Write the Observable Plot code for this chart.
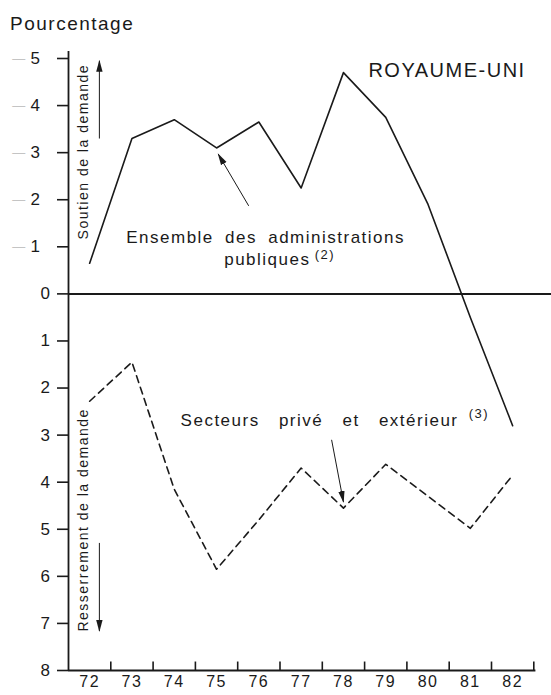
<!DOCTYPE html>
<html><head><meta charset="utf-8">
<script src="https://cdn.jsdelivr.net/npm/d3@7"></script>
<script src="https://cdn.jsdelivr.net/npm/@observablehq/plot@0.6"></script>
<style>
html,body{margin:0;padding:0;background:#fff;overflow:hidden;}
#wrap{position:relative;width:551px;height:695px;}
#ytitle{position:absolute;left:10px;top:14px;font-family:"Liberation Sans",Arial,sans-serif;font-size:19px;line-height:19px;letter-spacing:1.5px;color:#1a1a1a;}
svg text{letter-spacing:1.5px;}
</style></head><body>
<div id="wrap"><div id="ytitle">Pourcentage</div></div>
<script>
// ---- data ----
const years = [72, 73, 74, 75, 76, 77, 78, 79, 80, 81, 82];
const adminBalance = [0.65, 3.3, 3.7, 3.1, 3.65, 2.25, 4.7, 3.75, 1.9, -0.5, -2.8];     // Ensemble des administrations publiques
const privateBalance = [-2.28, -1.45, -4.15, -5.85, -4.8, -3.7, -4.55, -3.62, -4.3, -4.98, -3.85]; // Secteurs privé et extérieur
const yTicks = [-8, -7, -6, -5, -4, -3, -2, -1, 0, 1, 2, 3, 4, 5];
const halfYears = [72.5, 73.5, 74.5, 75.5, 76.5, 77.5, 78.5, 79.5, 80.5, 81.5, 82.5];
const countryTitle = "ROYAUME-UNI";
const adminLabel1 = "Ensemble des administrations";
const adminLabel2 = "publiques";
const adminNote = "(2)";
const privLabel = "Secteurs privé et extérieur";
const privNote = "(3)";
const upLabel = "Soutien de la demande";
const downLabel = "Resserrement de la demande";
// annotation arrows (data units): x1,y1 -> x2,y2
const arrowX1 = [72.23, 72.23, 75.76, 77.72];
const arrowY1 = [3.3, -5.29, 1.87, -3.10];
const arrowX2 = [72.23, 72.23, 75.04, 78.0];
const arrowY2 = [4.95, -7.16, 2.97, -4.42];

const table = years.map((yr, i) => ({year: yr, admin: adminBalance[i], priv: privateBalance[i]}));
const arrows = arrowX1.map((x, i) => ({x1: x, y1: arrowY1[i], x2: arrowX2[i], y2: arrowY2[i]}));
const ink = "#1a1a1a";

const chart = Plot.plot({
  width: 551, height: 695,
  marginTop: 58, marginBottom: 25, marginLeft: 68, marginRight: 17.7,
  x: {domain: [71.5, 82.5]},
  y: {domain: [-8, 5]},
  style: {fontFamily: "'Liberation Sans', Arial, sans-serif", fontSize: "17px", color: ink, background: "white", overflow: "hidden"},
  marks: [
    Plot.ruleY([0], {x1: 71.5, x2: 83.3, stroke: ink, strokeWidth: 2}),
    Plot.ruleY([-8], {x1: 71.5, x2: 82.55, stroke: ink, strokeWidth: 1.8}),
    Plot.ruleX([71.5], {y1: -8, y2: 5.15, stroke: ink, strokeWidth: 1.8}),
    Plot.ruleX(halfYears, {y1: -8, y2: -7.82, stroke: ink, strokeWidth: 1.6}),
    Plot.axisY(yTicks, {tickSize: 11, tickPadding: 6, strokeWidth: 1.6, fontSize: 17, label: null,
      tickFormat: d => d > 0 ? d + "\u2002" : String(Math.abs(d))}),
    Plot.text(yTicks.filter(d => d > 0), {x: 71.5, y: d => d, text: () => "\u2014", dx: -49, fill: "#c4c4c4", fontSize: 13}),
    Plot.axisX(years, {tickSize: 0, tickPadding: 5, fontSize: 16, label: null, tickFormat: d => String(d)}),
    Plot.line(table, {x: "year", y: "admin", stroke: ink, strokeWidth: 1.6}),
    Plot.line(table, {x: "year", y: "priv", stroke: ink, strokeWidth: 1.6, strokeDasharray: "7,5"}),
    Plot.link(arrows, {x1: "x1", y1: "y1", x2: "x2", y2: "y2", stroke: ink, strokeWidth: 1, markerEnd: "arrow"}),
    Plot.text([countryTitle], {x: 78.59, y: 4.74, text: d => d, textAnchor: "start", fontSize: 20}),
    Plot.text([adminLabel1], {x: 76.16, y: 1.19, text: d => d, fontSize: 17, ariaDescription: "ws5"}),
    Plot.text([adminLabel2], {x: 77.22, y: 0.72, text: d => d, textAnchor: "end", fontSize: 17}),
    Plot.text([adminNote], {x: 77.32, y: 0.83, text: d => d, textAnchor: "start", fontSize: 13}),
    Plot.text([privLabel], {x: 74.15, y: -2.68, text: d => d, textAnchor: "start", fontSize: 17, ariaDescription: "ws13"}),
    Plot.text([privNote], {x: 80.96, y: -2.55, text: d => d, textAnchor: "start", fontSize: 13}),
    Plot.text([upLabel], {x: 71.855, y: 3.02, text: d => d, rotate: -90, fontSize: 14}),
    Plot.text([downLabel], {x: 71.855, y: -4.80, text: d => d, rotate: -90, fontSize: 14})
  ]
});

// filled arrowheads
chart.querySelectorAll("marker").forEach(m => {
  m.setAttribute("viewBox", "-11 -4 12 8");
  m.setAttribute("markerWidth", "12");
  m.setAttribute("markerHeight", "8");
  m.setAttribute("markerUnits", "userSpaceOnUse");
  m.setAttribute("fill", ink);
  m.setAttribute("stroke", "none");
  m.querySelectorAll("path").forEach(p => {
    p.setAttribute("d", "M-11,-3.2L1,0L-11,3.2Z");
    p.setAttribute("fill", ink);
    p.setAttribute("stroke", "none");
  });
});
chart.querySelectorAll('[aria-description="ws5"] text').forEach(t => t.style.wordSpacing = "5px");
chart.querySelectorAll('[aria-description="ws13"] text').forEach(t => t.style.wordSpacing = "13px");

const wrap = document.getElementById("wrap");
wrap.insertBefore(chart, wrap.firstChild);
</script>
</body></html>
